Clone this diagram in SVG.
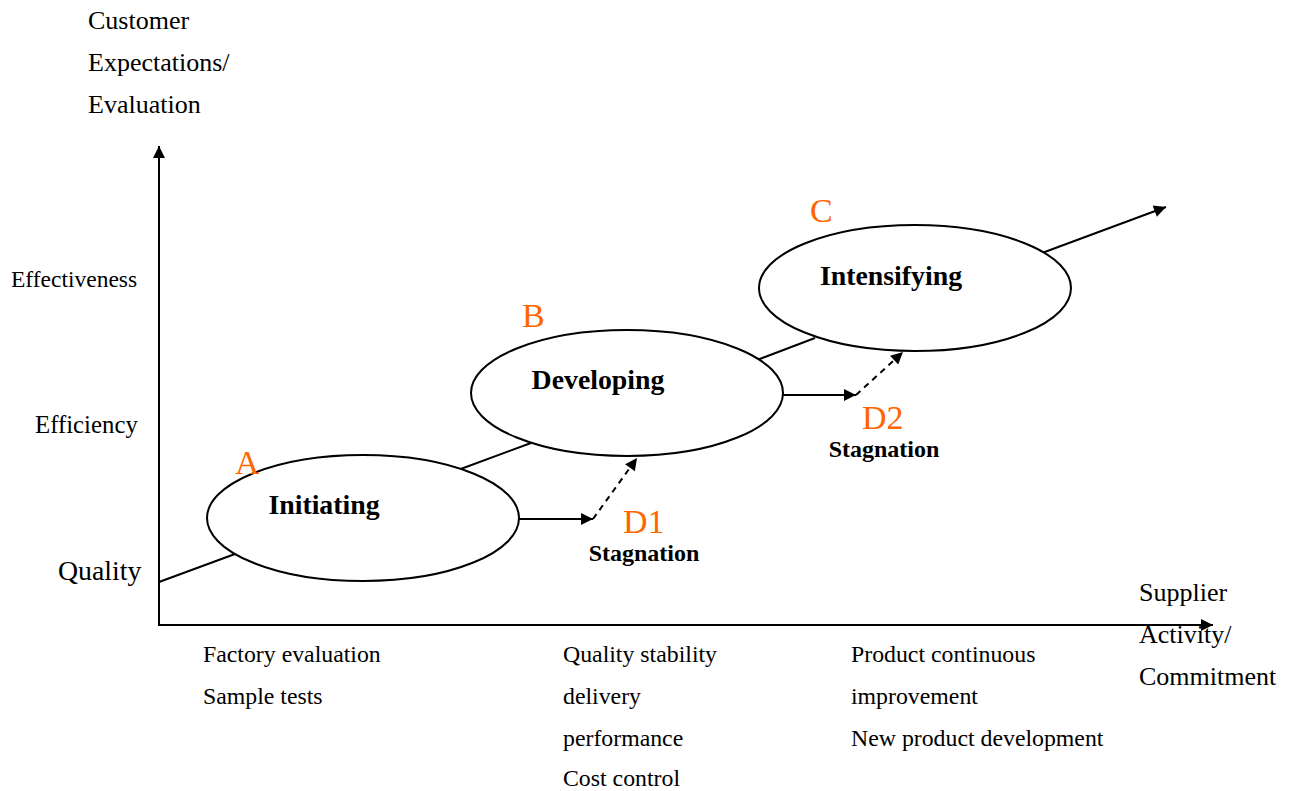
<svg xmlns="http://www.w3.org/2000/svg" width="1291" height="791" viewBox="0 0 1291 791">
<defs>
<marker id="ahs" viewBox="0 0 10 10" refX="10" refY="5" markerWidth="14" markerHeight="12" markerUnits="userSpaceOnUse" orient="auto"><path d="M0,0 L10,5 L0,10 z" fill="#000"/></marker>
<style>
text{font-family:"Liberation Serif","Times New Roman",serif;fill:#000}
.ax{font-size:26px}
.lab{font-size:23.8px}
.bold{font-weight:bold;font-size:27.8px}
.stag{font-weight:bold;font-size:24px}
.ltr{font-size:34px;fill:#FF6600}
.el{fill:#fff;stroke:#000;stroke-width:2}
.ln{stroke:#000;stroke-width:2;fill:none}
.dash{stroke:#000;stroke-width:2;fill:none;stroke-dasharray:6,5}
</style>
</defs>
<g id="axes">
<line class="ln" x1="159" y1="625" x2="159" y2="146" marker-end="url(#ahs)"/>
<line class="ln" x1="158" y1="625" x2="1213" y2="625" marker-end="url(#ahs)"/>
</g>
<g id="connectors">
<line class="ln" x1="159" y1="582" x2="235" y2="554"/>
<line class="ln" x1="458" y1="470" x2="531" y2="443"/>
<line class="ln" x1="757" y1="360" x2="815" y2="338"/>
<line class="ln" x1="1042" y1="253" x2="1166" y2="207" marker-end="url(#ahs)"/>
<line class="ln" x1="519" y1="519" x2="593" y2="519" marker-end="url(#ahs)"/>
<line class="dash" x1="593" y1="519" x2="637" y2="458" marker-end="url(#ahs)"/>
<line class="ln" x1="783" y1="395" x2="856" y2="395" marker-end="url(#ahs)"/>
<line class="dash" x1="856" y1="395" x2="903" y2="352" marker-end="url(#ahs)"/>
</g>
<g id="nodeA"><ellipse class="el" cx="363" cy="518" rx="156" ry="63"/><text class="bold" x="324" y="514" text-anchor="middle">Initiating</text></g>
<g id="nodeB"><ellipse class="el" cx="627" cy="393" rx="156" ry="63"/><text class="bold" x="598" y="389" text-anchor="middle">Developing</text></g>
<g id="nodeC"><ellipse class="el" cx="915" cy="288" rx="156" ry="63"/><text class="bold" x="891" y="285" text-anchor="middle">Intensifying</text></g>
<g id="letters">
<text class="ltr" x="235" y="474">A</text>
<text class="ltr" x="522" y="327">B</text>
<text class="ltr" x="810" y="222">C</text>
<text class="ltr" x="623" y="533">D1</text>
<text class="ltr" x="862" y="429">D2</text>
<text class="stag" x="644" y="561" text-anchor="middle">Stagnation</text>
<text class="stag" x="884" y="457" text-anchor="middle">Stagnation</text>
</g>
<g id="ylabels">
<text class="ax" x="88" y="29">Customer</text>
<text class="ax" x="88" y="71">Expectations/</text>
<text class="ax" x="88" y="113">Evaluation</text>
<text x="11" y="287" style="font-size:23.5px">Effectiveness</text>
<text x="35" y="433" style="font-size:24.8px">Efficiency</text>
<text x="58" y="580" style="font-size:27.8px">Quality</text>
</g>
<g id="xlabels">
<text class="lab" x="203" y="662">Factory evaluation</text>
<text class="lab" x="203" y="704">Sample tests</text>
<text class="lab" x="563" y="662">Quality stability</text>
<text class="lab" x="563" y="704">delivery</text>
<text class="lab" x="563" y="746">performance</text>
<text class="lab" x="563" y="786">Cost control</text>
<text class="lab" x="851" y="662">Product continuous</text>
<text class="lab" x="851" y="704">improvement</text>
<text class="lab" x="851" y="746">New product development</text>
<text class="ax" x="1139" y="601">Supplier</text>
<text class="ax" x="1139" y="643">Activity/</text>
<text class="ax" x="1139" y="685">Commitment</text>
</g>
</svg>
